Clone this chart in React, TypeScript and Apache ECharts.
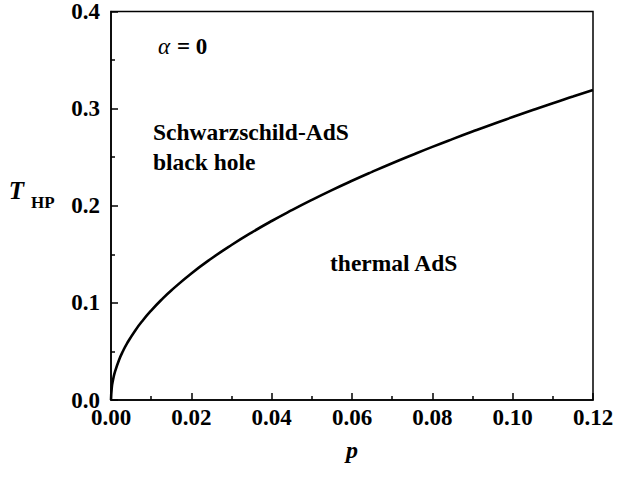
import React, { useEffect, useRef } from "react";
import * as echarts from "echarts";

const pValues = [0, 0.0002, 0.0005, 0.001, 0.002, 0.003, 0.004, 0.006, 0.008, 0.01, 0.0125, 0.015, 0.02, 0.025, 0.03, 0.035, 0.04, 0.045, 0.05, 0.055, 0.06, 0.065, 0.07, 0.075, 0.08, 0.085, 0.09, 0.095, 0.1, 0.105, 0.11, 0.115, 0.12];
const tValues = [0, 0.0130, 0.0206, 0.0291, 0.0412, 0.0505, 0.0583, 0.0714, 0.0824, 0.0921, 0.1030, 0.1128, 0.1303, 0.1457, 0.1596, 0.1724, 0.1843, 0.1954, 0.2060, 0.2161, 0.2257, 0.2349, 0.2438, 0.2523, 0.2606, 0.2686, 0.2764, 0.2840, 0.2913, 0.2985, 0.3056, 0.3124, 0.3192];
const xTickLabels = ["0.00", "0.02", "0.04", "0.06", "0.08", "0.10", "0.12"];
const yTickLabels = ["0.0", "0.1", "0.2", "0.3", "0.4"];

const FONT = "'Liberation Serif', 'Times New Roman', serif";

export default function App() {
  const ref = useRef<HTMLDivElement>(null);
  useEffect(() => {
    if (!ref.current) return;
    const chart = echarts.init(ref.current, null, { renderer: "svg" });
    const data = pValues.map((p, i) => [p, tValues[i]]);
    const txt = (text: string, x: number, y: number, fontSize: number, extra: any = {}) => ({
      type: "text",
      x,
      y,
      style: {
        text,
        fontFamily: FONT,
        fontWeight: "bold",
        fontSize,
        fill: "#000",
        textAlign: "left",
        textVerticalAlign: "middle",
        ...extra,
      },
    });
    chart.setOption({
      animation: false,
      backgroundColor: "#fff",
      grid: { left: 111, right: 40, top: 11, bottom: 77, show: true, borderColor: "#000", borderWidth: 1.5, backgroundColor: "transparent" },
      xAxis: {
        type: "value",
        min: 0,
        max: 0.12,
        interval: 0.02,
        axisLine: { show: true, onZero: false, lineStyle: { color: "#000", width: 1.5 } },
        axisTick: { show: true, inside: true, length: 7, lineStyle: { color: "#000", width: 1.5 } },
        minorTick: { show: true, splitNumber: 2, length: 4, lineStyle: { color: "#000", width: 1.5 } },
        splitLine: { show: false },
        axisLabel: {
          color: "#000",
          fontFamily: FONT,
          fontWeight: "bold",
          fontSize: 23,
          margin: 6,
          formatter: (v: number) => {
            const idx = Math.round(v / 0.02);
            return xTickLabels[idx] ?? "";
          },
        },
      },
      yAxis: {
        type: "value",
        min: 0,
        max: 0.4,
        interval: 0.1,
        axisLine: { show: true, onZero: false, lineStyle: { color: "#000", width: 1.5 } },
        axisTick: { show: true, inside: true, length: 7, lineStyle: { color: "#000", width: 1.5 } },
        minorTick: { show: true, splitNumber: 2, length: 4, lineStyle: { color: "#000", width: 1.5 } },
        splitLine: { show: false },
        axisLabel: {
          color: "#000",
          fontFamily: FONT,
          fontWeight: "bold",
          fontSize: 23,
          margin: 11,
          formatter: (v: number) => {
            const idx = Math.round(v / 0.1);
            return yTickLabels[idx] ?? "";
          },
        },
      },
      series: [
        {
          type: "line",
          data,
          smooth: true,
          showSymbol: false,
          lineStyle: { color: "#000", width: 2.6 },
        },
      ],
      graphic: [
        txt("T", 24, 190, 25, { fontStyle: "italic", textAlign: "right" }),
        txt("HP", 31, 202, 17),
        txt("p", 352, 450, 24, { fontStyle: "italic", textAlign: "center" }),
        txt("α", 158, 46, 23, { fontStyle: "italic", fontWeight: "normal" }),
        txt("= 0", 177, 46, 23),
        txt("Schwarzschild-AdS", 153, 132, 23.5),
        txt("black hole", 153, 162, 23.5),
        txt("thermal AdS", 330, 263, 23.5),
      ],
    });
    return () => chart.dispose();
  }, []);
  return <div ref={ref} style={{ position: "absolute", left: 0, top: 0, width: 633, height: 477 }} />;
}
